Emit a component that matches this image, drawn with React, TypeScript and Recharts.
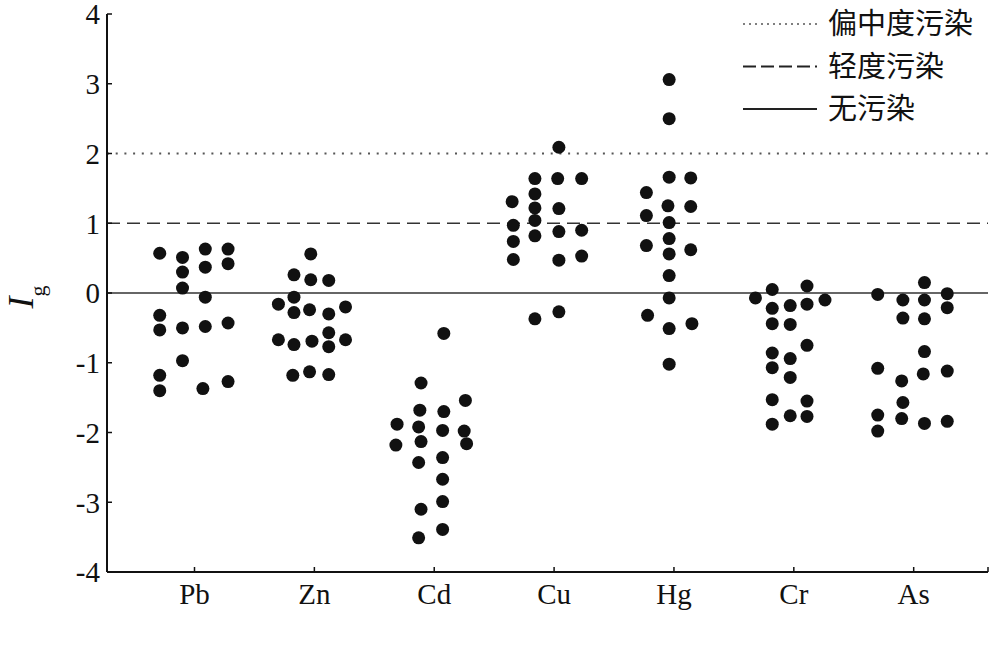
import { ScatterChart, Scatter, XAxis, YAxis, ReferenceLine, Legend } from 'recharts'

const ELEMENTS = ['Pb', 'Zn', 'Cd', 'Cu', 'Hg', 'Cr', 'As'] as const
const Y_TICKS = [-4, -3, -2, -1, 0, 1, 2, 3, 4]
const LEGEND_LABELS = ['偏中度污染', '轻度污染', '无污染']

// each point: [horizontal jitter inside the category, Ig value]
const PB: [number, number][] = [
  [-0.29, 0.57], [-0.1, 0.51], [-0.1, 0.3], [-0.1, 0.07], [0.09, 0.63], [0.09, 0.37], [0.09, -0.06],
  [0.28, 0.63], [0.28, 0.42], [-0.29, -0.32], [-0.29, -0.53], [-0.1, -0.5], [0.09, -0.48], [0.28, -0.43],
  [-0.1, -0.97], [-0.29, -1.18], [-0.29, -1.4], [0.07, -1.37], [0.28, -1.27],
]
const ZN: [number, number][] = [
  [-0.03, 0.56], [-0.17, 0.26], [-0.03, 0.19], [0.12, 0.18], [-0.17, -0.06], [-0.3, -0.16], [-0.17, -0.28],
  [-0.04, -0.24], [0.12, -0.3], [0.26, -0.2], [0.12, -0.57], [-0.3, -0.67], [-0.17, -0.74], [-0.02, -0.69],
  [0.12, -0.77], [0.26, -0.67], [-0.18, -1.18], [-0.04, -1.13], [0.12, -1.17],
]
const CD: [number, number][] = [
  [0.08, -0.58], [-0.11, -1.29], [0.26, -1.54], [-0.12, -1.68], [0.08, -1.7], [-0.31, -1.88], [-0.13, -1.92],
  [0.07, -1.97], [0.25, -1.98], [-0.32, -2.18], [-0.11, -2.13], [0.27, -2.16], [-0.13, -2.43], [0.07, -2.36],
  [0.07, -2.67], [0.07, -2.99], [-0.11, -3.1], [0.07, -3.39], [-0.13, -3.51],
]
const CU: [number, number][] = [
  [0.04, 2.09], [-0.16, 1.64], [0.03, 1.64], [0.23, 1.64], [-0.35, 1.31], [-0.16, 1.42], [-0.16, 1.22],
  [0.04, 1.21], [-0.16, 1.04], [-0.34, 0.97], [-0.16, 0.82], [0.04, 0.88], [0.23, 0.9], [-0.34, 0.74],
  [-0.34, 0.48], [0.04, 0.47], [0.23, 0.53], [-0.16, -0.37], [0.04, -0.27],
]
const HG: [number, number][] = [
  [-0.04, 3.06], [-0.04, 2.5], [-0.04, 1.66], [0.14, 1.65], [-0.23, 1.44], [-0.05, 1.25], [0.14, 1.24],
  [-0.23, 1.11], [-0.04, 1.01], [-0.04, 0.78], [-0.23, 0.68], [-0.04, 0.56], [0.14, 0.62], [-0.04, 0.25],
  [-0.04, -0.07], [-0.22, -0.32], [-0.04, -0.51], [0.15, -0.44], [-0.04, -1.02],
]
const CR: [number, number][] = [
  [-0.32, -0.07], [-0.18, 0.05], [0.11, 0.1], [-0.18, -0.22], [-0.03, -0.18], [0.11, -0.16], [0.26, -0.1],
  [-0.18, -0.44], [-0.03, -0.45], [0.11, -0.75], [-0.18, -0.86], [-0.03, -0.94], [-0.18, -1.07], [-0.03, -1.21],
  [-0.18, -1.53], [0.11, -1.55], [-0.03, -1.76], [0.11, -1.77], [-0.18, -1.88],
]
const AS: [number, number][] = [
  [-0.3, -0.02], [0.09, 0.15], [-0.09, -0.1], [0.09, -0.1], [0.28, -0.01], [0.28, -0.21], [-0.09, -0.36],
  [0.09, -0.37], [0.09, -0.84], [-0.3, -1.08], [-0.1, -1.26], [0.08, -1.16], [0.28, -1.12], [-0.09, -1.57],
  [-0.3, -1.75], [-0.1, -1.8], [0.09, -1.87], [0.28, -1.84], [-0.3, -1.98],
]

const GROUPS = [PB, ZN, CD, CU, HG, CR, AS]
const X_MIN = 0.27
const X_MAX = 7.62

const FONT = '"Liberation Serif", "Times New Roman", serif'
const INK = '#111'

function XTick({ x, y, payload }: any) {
  const v = payload.value as number
  const label = Number.isInteger(v) ? ELEMENTS[v - 1] : ''
  return (
    <g>
      <line x1={x} x2={x} y1={y} y2={y - 5} stroke={INK} strokeWidth={1.5} />
      {label && (
        <text x={x} y={y + 32} textAnchor="middle" fontSize={29} fontFamily={FONT} fill={INK}>
          {label}
        </text>
      )}
    </g>
  )
}

function YTick({ x, y, payload }: any) {
  return (
    <g>
      <line x1={x} x2={x + 5} y1={y} y2={y} stroke={INK} strokeWidth={1.5} />
      <text x={x - 7} y={y} dy="0.36em" textAnchor="end" fontSize={29} fontFamily={FONT} fill={INK}>
        {payload.value}
      </text>
    </g>
  )
}

function LegendBox() {
  const dashes = ['2 4', '13 5', undefined]
  return (
    <svg width={260} height={135}>
      {LEGEND_LABELS.map((name, i) => {
        const y = 24 + i * 42.5
        return (
          <g key={name}>
            <line x1={3} x2={77} y1={y} y2={y} stroke={i === 0 ? '#555' : '#222'} strokeWidth={i === 0 ? 1.5 : 2} strokeDasharray={dashes[i]} />
            <text x={88} y={y} dy="0.36em" fontSize={29} fontFamily='"Noto Sans CJK SC", sans-serif' fill={INK}>
              {name}
            </text>
          </g>
        )
      })}
    </svg>
  )
}

export default function App() {
  const points = GROUPS.flatMap((g, i) => g.map(([dx, v]) => ({ x: i + 1 + dx, y: v })))

  return (
    <div style={{ position: 'absolute', left: 0, top: 0, width: 1000, height: 669, background: '#fff' }}>
      <ScatterChart width={1000} height={669} margin={{ top: 14, right: 12, bottom: 67, left: 27 }}>
        <XAxis
          type="number"
          dataKey="x"
          domain={[X_MIN, X_MAX]}
          ticks={[1, 2, 3, 4, 5, 6, 7, X_MAX]}
          allowDataOverflow
          height={30}
          tickSize={0}
          tickMargin={0}
          tickLine={false}
          axisLine={{ stroke: INK, strokeWidth: 2 }}
          tick={<XTick />}
          interval={0}
        />
        <YAxis
          type="number"
          dataKey="y"
          domain={[-4, 4]}
          ticks={Y_TICKS}
          allowDataOverflow
          width={80}
          tickSize={0}
          tickMargin={0}
          tickLine={false}
          axisLine={{ stroke: INK, strokeWidth: 2 }}
          tick={<YTick />}
          interval={0}
          label={{
            content: () => (
              <text transform="translate(33, 297) rotate(-90)" textAnchor="middle" fontFamily={FONT} fill={INK}>
                <tspan fontStyle="italic" fontSize={36}>I</tspan>
                <tspan fontSize={22} dy={12}>g</tspan>
              </text>
            ),
          }}
        />
        <ReferenceLine y={2} stroke="#555" strokeWidth={2} strokeDasharray="2 6.7" />
        <ReferenceLine y={1} stroke="#333" strokeWidth={1.5} strokeDasharray="13 7" />
        <ReferenceLine y={0} stroke="#333" strokeWidth={1.5} />
        <Legend
          layout="vertical"
          align="center"
          verticalAlign="middle"
          wrapperStyle={{ top: 0, left: 740, width: 260 }}
          content={() => <LegendBox />}
        />
        <Scatter
          data={points}
          isAnimationActive={false}
          shape={(p: any) => <circle cx={p.cx} cy={p.cy} r={6.5} fill={INK} />}
        />
      </ScatterChart>
    </div>
  )
}
